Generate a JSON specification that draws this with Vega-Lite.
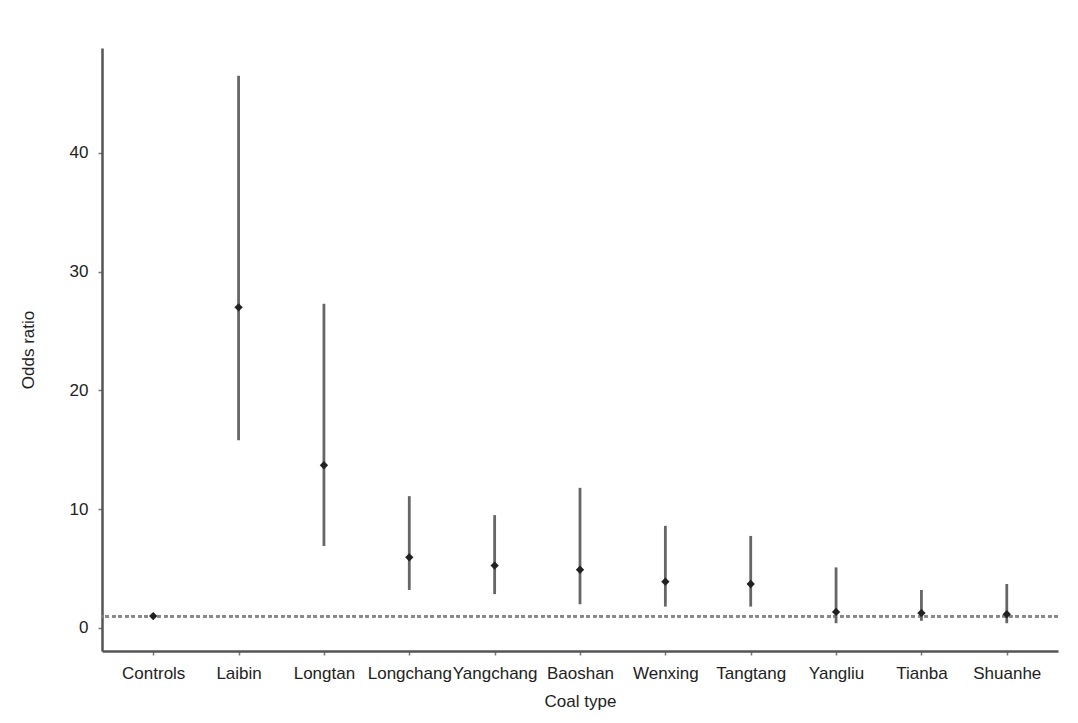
{
  "$schema": "https://vega.github.io/schema/vega-lite/v6.json",
  "width": 956,
  "height": 603,
  "autosize": {"type": "none"},
  "padding": {"left": 102, "top": 48, "right": 20, "bottom": 72},
  "background": "white",
  "config": {
    "view": {"stroke": null},
    "font": "Liberation Sans, Arial",
    "axis": {
      "grid": false,
      "domainColor": "#555",
      "domainWidth": 2.5,
      "tickColor": "#777",
      "tickSize": 4,
      "tickWidth": 1.5,
      "labelFontSize": 17,
      "labelColor": "#222",
      "titleFontSize": 17,
      "titleFontWeight": "normal",
      "titleColor": "#222"
    }
  },
  "data": {
    "values": [
      {"coal": "Controls", "or": 1.0, "lower": 1.0, "upper": 1.0},
      {"coal": "Laibin", "or": 27.0, "lower": 15.8, "upper": 46.5},
      {"coal": "Longtan", "or": 13.7, "lower": 6.9, "upper": 27.3},
      {"coal": "Longchang", "or": 5.95, "lower": 3.2, "upper": 11.1},
      {"coal": "Yangchang", "or": 5.25, "lower": 2.85, "upper": 9.5},
      {"coal": "Baoshan", "or": 4.9, "lower": 2.0, "upper": 11.8},
      {"coal": "Wenxing", "or": 3.9, "lower": 1.8, "upper": 8.6},
      {"coal": "Tangtang", "or": 3.7, "lower": 1.8, "upper": 7.75},
      {"coal": "Yangliu", "or": 1.35, "lower": 0.4, "upper": 5.1},
      {"coal": "Tianba", "or": 1.25, "lower": 0.6, "upper": 3.2},
      {"coal": "Shuanhe", "or": 1.15, "lower": 0.4, "upper": 3.7}
    ]
  },
  "encoding": {
    "x": {
      "field": "coal",
      "type": "nominal",
      "sort": null,
      "scale": {"type": "point", "padding": 0.6},
      "axis": {"title": "Coal type", "labelAngle": 0, "labelPadding": 10, "titlePadding": 12}
    }
  },
  "layer": [
    {
      "mark": {"type": "rule", "strokeDash": [3.5, 3], "color": "#888", "strokeWidth": 2.2},
      "encoding": {"x": null, "y": {"datum": 1}}
    },
    {
      "mark": {"type": "rule", "color": "#666", "strokeWidth": 2.8},
      "encoding": {
        "y": {
          "field": "lower",
          "type": "quantitative",
          "scale": {"domain": [-1.94, 48.84], "nice": false, "zero": false},
          "axis": {"title": "Odds ratio", "values": [0, 10, 20, 30, 40], "labelPadding": 10, "titlePadding": 32}
        },
        "y2": {"field": "upper"}
      }
    },
    {
      "mark": {"type": "point", "shape": "diamond", "filled": true, "color": "#222", "size": 70, "opacity": 1},
      "encoding": {"y": {"field": "or", "type": "quantitative"}}
    }
  ]
}
